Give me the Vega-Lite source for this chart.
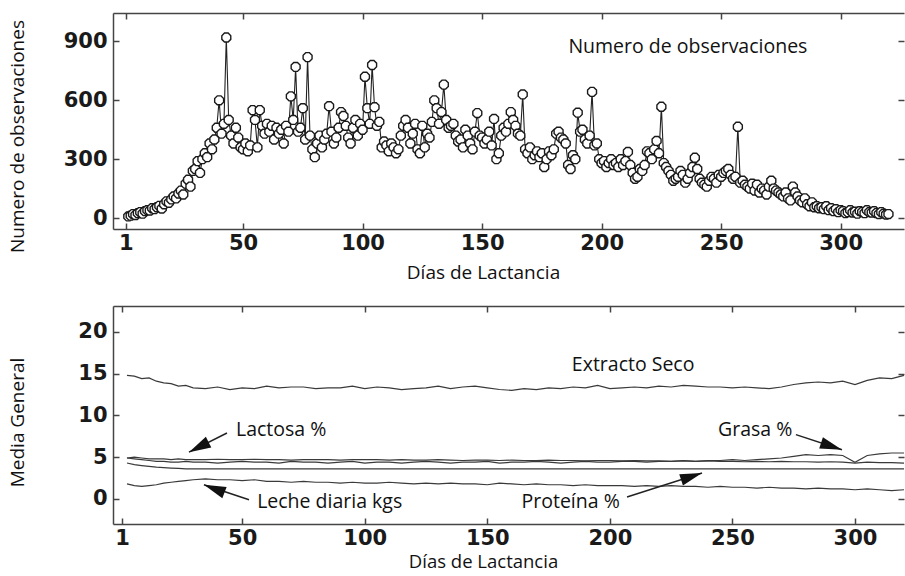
{
  "$schema": "https://vega.github.io/schema/vega-lite/v6.json",
  "background": "white",
  "padding": {"left": 7, "top": 12, "right": 0, "bottom": 0},
  "bounds": "flush",
  "spacing": 77,
  "config": {
    "view": {"stroke": null},
    "font": "Open Sans",
    "axis": {
      "grid": false,
      "domainColor": "#444",
      "domainWidth": 1.5,
      "tickColor": "#444",
      "tickWidth": 1.5,
      "tickSize": -6,
      "labelFont": "DejaVu Sans",
      "labelFontWeight": "bold",
      "labelFontSize": 21,
      "labelColor": "#1a1a1a",
      "titleFont": "Open Sans",
      "titleFontWeight": "normal",
      "titleFontSize": 19,
      "titleColor": "#111"
    },
    "text": {"font": "Open Sans", "fontSize": 19.5, "color": "#111"}
  },
  "datasets": {
    "obs": [
      {"d":2,"n":8},{"d":3,"n":12},{"d":4,"n":20},{"d":5,"n":15},{"d":6,"n":25},{"d":7,"n":30},{"d":8,"n":22},{"d":9,"n":35},{"d":10,"n":40},
      {"d":11,"n":38},{"d":12,"n":50},{"d":13,"n":45},{"d":14,"n":55},{"d":15,"n":62},{"d":16,"n":48},{"d":17,"n":70},{"d":18,"n":85},{"d":19,"n":78},{"d":20,"n":95},
      {"d":21,"n":110},{"d":22,"n":100},{"d":23,"n":125},{"d":24,"n":140},{"d":25,"n":120},{"d":26,"n":175},{"d":27,"n":195},{"d":28,"n":160},{"d":29,"n":240},{"d":30,"n":250},
      {"d":31,"n":290},{"d":32,"n":230},{"d":33,"n":300},{"d":34,"n":330},{"d":35,"n":310},{"d":36,"n":380},{"d":37,"n":350},{"d":38,"n":400},{"d":39,"n":460},{"d":40,"n":600},
      {"d":41,"n":430},{"d":42,"n":480},{"d":43,"n":920},{"d":44,"n":500},{"d":45,"n":420},{"d":46,"n":380},{"d":47,"n":460},{"d":48,"n":410},{"d":49,"n":360},{"d":50,"n":350},
      {"d":51,"n":380},{"d":52,"n":340},{"d":53,"n":370},{"d":54,"n":550},{"d":55,"n":500},{"d":56,"n":360},{"d":57,"n":550},{"d":58,"n":470},{"d":59,"n":430},{"d":60,"n":480},
      {"d":61,"n":440},{"d":62,"n":470},{"d":63,"n":400},{"d":64,"n":460},{"d":65,"n":430},{"d":66,"n":450},{"d":67,"n":380},{"d":68,"n":470},{"d":69,"n":440},{"d":70,"n":620},
      {"d":71,"n":500},{"d":72,"n":770},{"d":73,"n":440},{"d":74,"n":460},{"d":75,"n":560},{"d":76,"n":400},{"d":77,"n":820},{"d":78,"n":420},{"d":79,"n":350},{"d":80,"n":310},
      {"d":81,"n":380},{"d":82,"n":420},{"d":83,"n":360},{"d":84,"n":400},{"d":85,"n":430},{"d":86,"n":570},{"d":87,"n":440},{"d":88,"n":380},{"d":89,"n":410},{"d":90,"n":460},
      {"d":91,"n":540},{"d":92,"n":520},{"d":93,"n":470},{"d":94,"n":410},{"d":95,"n":380},{"d":96,"n":460},{"d":97,"n":500},{"d":98,"n":420},{"d":99,"n":480},{"d":100,"n":450},
      {"d":101,"n":720},{"d":102,"n":560},{"d":103,"n":480},{"d":104,"n":780},{"d":105,"n":565},{"d":106,"n":470},{"d":107,"n":490},{"d":108,"n":360},{"d":109,"n":390},{"d":110,"n":370},
      {"d":111,"n":340},{"d":112,"n":380},{"d":113,"n":360},{"d":114,"n":330},{"d":115,"n":350},{"d":116,"n":420},{"d":117,"n":470},{"d":118,"n":500},{"d":119,"n":460},{"d":120,"n":380},
      {"d":121,"n":430},{"d":122,"n":480},{"d":123,"n":350},{"d":124,"n":330},{"d":125,"n":470},{"d":126,"n":360},{"d":127,"n":430},{"d":128,"n":410},{"d":129,"n":490},{"d":130,"n":600},
      {"d":131,"n":560},{"d":132,"n":480},{"d":133,"n":540},{"d":134,"n":680},{"d":135,"n":500},{"d":136,"n":460},{"d":137,"n":470},{"d":138,"n":480},{"d":139,"n":420},{"d":140,"n":390},
      {"d":141,"n":400},{"d":142,"n":360},{"d":143,"n":450},{"d":144,"n":420},{"d":145,"n":380},{"d":146,"n":350},{"d":147,"n":440},{"d":148,"n":535},{"d":149,"n":420},{"d":150,"n":410},
      {"d":151,"n":380},{"d":152,"n":400},{"d":153,"n":440},{"d":154,"n":370},{"d":155,"n":505},{"d":156,"n":300},{"d":157,"n":330},{"d":158,"n":420},{"d":159,"n":460},{"d":160,"n":440},
      {"d":161,"n":480},{"d":162,"n":540},{"d":163,"n":500},{"d":164,"n":470},{"d":165,"n":430},{"d":166,"n":420},{"d":167,"n":630},{"d":168,"n":350},{"d":169,"n":330},{"d":170,"n":360},
      {"d":171,"n":300},{"d":172,"n":320},{"d":173,"n":340},{"d":174,"n":310},{"d":175,"n":330},{"d":176,"n":260},{"d":177,"n":300},{"d":178,"n":340},{"d":179,"n":320},{"d":180,"n":350},
      {"d":181,"n":430},{"d":182,"n":440},{"d":183,"n":410},{"d":184,"n":400},{"d":185,"n":380},{"d":186,"n":270},{"d":187,"n":250},{"d":188,"n":320},{"d":189,"n":300},{"d":190,"n":537},
      {"d":191,"n":440},{"d":192,"n":450},{"d":193,"n":400},{"d":194,"n":380},{"d":195,"n":420},{"d":196,"n":643},{"d":197,"n":370},{"d":198,"n":380},{"d":199,"n":300},{"d":200,"n":280},
      {"d":201,"n":290},{"d":202,"n":260},{"d":203,"n":280},{"d":204,"n":300},{"d":205,"n":270},{"d":206,"n":280},{"d":207,"n":260},{"d":208,"n":300},{"d":209,"n":270},{"d":210,"n":290},
      {"d":211,"n":337},{"d":212,"n":270},{"d":213,"n":230},{"d":214,"n":200},{"d":215,"n":210},{"d":216,"n":250},{"d":217,"n":240},{"d":218,"n":270},{"d":219,"n":340},{"d":220,"n":330},
      {"d":221,"n":300},{"d":222,"n":350},{"d":223,"n":393},{"d":224,"n":330},{"d":225,"n":567},{"d":226,"n":280},{"d":227,"n":260},{"d":228,"n":240},{"d":229,"n":220},{"d":230,"n":190},
      {"d":231,"n":200},{"d":232,"n":210},{"d":233,"n":240},{"d":234,"n":220},{"d":235,"n":180},{"d":236,"n":200},{"d":237,"n":230},{"d":238,"n":260},{"d":239,"n":307},{"d":240,"n":250},
      {"d":241,"n":200},{"d":242,"n":180},{"d":243,"n":170},{"d":244,"n":160},{"d":245,"n":190},{"d":246,"n":210},{"d":247,"n":200},{"d":248,"n":180},{"d":249,"n":220},{"d":250,"n":210},
      {"d":251,"n":230},{"d":252,"n":240},{"d":253,"n":250},{"d":254,"n":220},{"d":255,"n":200},{"d":256,"n":210},{"d":257,"n":465},{"d":258,"n":180},{"d":259,"n":190},{"d":260,"n":170},
      {"d":261,"n":160},{"d":262,"n":150},{"d":263,"n":175},{"d":264,"n":140},{"d":265,"n":170},{"d":266,"n":130},{"d":267,"n":150},{"d":268,"n":140},{"d":269,"n":120},{"d":270,"n":160},
      {"d":271,"n":190},{"d":272,"n":150},{"d":273,"n":140},{"d":274,"n":130},{"d":275,"n":120},{"d":276,"n":110},{"d":277,"n":130},{"d":278,"n":100},{"d":279,"n":90},{"d":280,"n":160},
      {"d":281,"n":130},{"d":282,"n":110},{"d":283,"n":90},{"d":284,"n":80},{"d":285,"n":100},{"d":286,"n":70},{"d":287,"n":60},{"d":288,"n":80},{"d":289,"n":55},{"d":290,"n":60},
      {"d":291,"n":50},{"d":292,"n":55},{"d":293,"n":45},{"d":294,"n":60},{"d":295,"n":40},{"d":296,"n":50},{"d":297,"n":35},{"d":298,"n":45},{"d":299,"n":30},{"d":300,"n":40},
      {"d":301,"n":35},{"d":302,"n":25},{"d":303,"n":30},{"d":304,"n":40},{"d":305,"n":28},{"d":306,"n":32},{"d":307,"n":22},{"d":308,"n":35},{"d":309,"n":30},{"d":310,"n":25},
      {"d":311,"n":40},{"d":312,"n":30},{"d":313,"n":28},{"d":314,"n":35},{"d":315,"n":25},{"d":316,"n":20},{"d":317,"n":30},{"d":318,"n":22},{"d":319,"n":18},{"d":320,"n":20}
    ],
    "comp": [
      {"d":3,"es":14.8,"gr":4.9,"la":4.9,"pr":4.3,"le":1.8},
      {"d":6,"es":14.7,"gr":4.8,"la":5.0,"pr":4.1,"le":1.6},
      {"d":9,"es":14.4,"gr":4.7,"la":4.9,"pr":4.0,"le":1.5},
      {"d":12,"es":14.5,"gr":4.6,"la":4.8,"pr":3.9,"le":1.6},
      {"d":15,"es":14.1,"gr":4.5,"la":4.8,"pr":3.8,"le":1.7},
      {"d":18,"es":13.9,"gr":4.5,"la":4.8,"pr":3.75,"le":1.9},
      {"d":21,"es":13.8,"gr":4.4,"la":4.7,"pr":3.7,"le":2.0},
      {"d":24,"es":13.5,"gr":4.4,"la":4.8,"pr":3.65,"le":2.1},
      {"d":27,"es":13.6,"gr":4.5,"la":4.7,"pr":3.6,"le":2.2},
      {"d":30,"es":13.3,"gr":4.4,"la":4.7,"pr":3.6,"le":2.3},
      {"d":35,"es":13.2,"gr":4.4,"la":4.7,"pr":3.6,"le":2.4},
      {"d":40,"es":13.4,"gr":4.3,"la":4.75,"pr":3.6,"le":2.3},
      {"d":45,"es":13.1,"gr":4.4,"la":4.7,"pr":3.6,"le":2.3},
      {"d":50,"es":13.3,"gr":4.5,"la":4.7,"pr":3.6,"le":2.2},
      {"d":55,"es":13.2,"gr":4.4,"la":4.75,"pr":3.6,"le":2.3},
      {"d":60,"es":13.5,"gr":4.4,"la":4.7,"pr":3.6,"le":2.1},
      {"d":65,"es":13.3,"gr":4.3,"la":4.7,"pr":3.6,"le":2.1},
      {"d":70,"es":13.4,"gr":4.5,"la":4.65,"pr":3.6,"le":2.0},
      {"d":75,"es":13.4,"gr":4.4,"la":4.7,"pr":3.6,"le":2.1},
      {"d":80,"es":13.2,"gr":4.4,"la":4.7,"pr":3.6,"le":2.0},
      {"d":85,"es":13.3,"gr":4.3,"la":4.7,"pr":3.6,"le":2.0},
      {"d":90,"es":13.3,"gr":4.4,"la":4.65,"pr":3.6,"le":1.9},
      {"d":95,"es":13.5,"gr":4.5,"la":4.7,"pr":3.6,"le":2.0},
      {"d":100,"es":13.2,"gr":4.3,"la":4.7,"pr":3.6,"le":1.9},
      {"d":105,"es":13.4,"gr":4.4,"la":4.7,"pr":3.6,"le":1.9},
      {"d":110,"es":13.3,"gr":4.4,"la":4.65,"pr":3.6,"le":2.0},
      {"d":115,"es":13.1,"gr":4.3,"la":4.7,"pr":3.6,"le":1.9},
      {"d":120,"es":13.2,"gr":4.4,"la":4.65,"pr":3.6,"le":1.8},
      {"d":125,"es":13.3,"gr":4.5,"la":4.65,"pr":3.6,"le":1.9},
      {"d":130,"es":13.5,"gr":4.4,"la":4.7,"pr":3.6,"le":1.8},
      {"d":135,"es":13.2,"gr":4.3,"la":4.65,"pr":3.6,"le":1.9},
      {"d":140,"es":13.4,"gr":4.4,"la":4.6,"pr":3.6,"le":1.8},
      {"d":145,"es":13.5,"gr":4.4,"la":4.65,"pr":3.6,"le":1.8},
      {"d":150,"es":13.3,"gr":4.5,"la":4.65,"pr":3.6,"le":1.7},
      {"d":155,"es":13.1,"gr":4.3,"la":4.6,"pr":3.6,"le":1.9},
      {"d":160,"es":13.0,"gr":4.4,"la":4.65,"pr":3.6,"le":1.8},
      {"d":165,"es":13.2,"gr":4.4,"la":4.6,"pr":3.6,"le":1.7},
      {"d":170,"es":13.1,"gr":4.5,"la":4.6,"pr":3.6,"le":1.8},
      {"d":175,"es":13.3,"gr":4.4,"la":4.65,"pr":3.6,"le":1.7},
      {"d":180,"es":13.2,"gr":4.3,"la":4.6,"pr":3.6,"le":1.7},
      {"d":185,"es":13.4,"gr":4.4,"la":4.6,"pr":3.6,"le":1.6},
      {"d":190,"es":13.3,"gr":4.5,"la":4.55,"pr":3.6,"le":1.7},
      {"d":195,"es":13.6,"gr":4.4,"la":4.6,"pr":3.6,"le":1.6},
      {"d":200,"es":13.2,"gr":4.4,"la":4.6,"pr":3.6,"le":1.6},
      {"d":205,"es":13.3,"gr":4.5,"la":4.55,"pr":3.6,"le":1.6},
      {"d":210,"es":13.4,"gr":4.5,"la":4.6,"pr":3.6,"le":1.5},
      {"d":215,"es":13.3,"gr":4.4,"la":4.55,"pr":3.6,"le":1.6},
      {"d":220,"es":13.5,"gr":4.5,"la":4.55,"pr":3.6,"le":1.5},
      {"d":225,"es":13.4,"gr":4.5,"la":4.5,"pr":3.6,"le":1.6},
      {"d":230,"es":13.6,"gr":4.6,"la":4.55,"pr":3.6,"le":1.5},
      {"d":235,"es":13.5,"gr":4.5,"la":4.5,"pr":3.6,"le":1.5},
      {"d":240,"es":13.4,"gr":4.6,"la":4.55,"pr":3.6,"le":1.4},
      {"d":245,"es":13.4,"gr":4.6,"la":4.5,"pr":3.6,"le":1.5},
      {"d":250,"es":13.3,"gr":4.7,"la":4.5,"pr":3.6,"le":1.4},
      {"d":255,"es":13.4,"gr":4.6,"la":4.45,"pr":3.6,"le":1.4},
      {"d":260,"es":13.3,"gr":4.7,"la":4.5,"pr":3.6,"le":1.3},
      {"d":265,"es":13.2,"gr":4.8,"la":4.45,"pr":3.6,"le":1.4},
      {"d":270,"es":13.4,"gr":4.9,"la":4.5,"pr":3.6,"le":1.3},
      {"d":275,"es":13.7,"gr":5.1,"la":4.45,"pr":3.6,"le":1.3},
      {"d":280,"es":13.9,"gr":5.3,"la":4.45,"pr":3.6,"le":1.2},
      {"d":285,"es":14.0,"gr":5.2,"la":4.4,"pr":3.6,"le":1.3},
      {"d":290,"es":13.9,"gr":5.3,"la":4.45,"pr":3.6,"le":1.2},
      {"d":295,"es":14.1,"gr":5.2,"la":4.4,"pr":3.6,"le":1.2},
      {"d":300,"es":13.7,"gr":4.4,"la":4.3,"pr":3.6,"le":1.1},
      {"d":305,"es":14.2,"gr":5.2,"la":4.4,"pr":3.6,"le":1.2},
      {"d":310,"es":14.5,"gr":5.4,"la":4.35,"pr":3.6,"le":1.1},
      {"d":315,"es":14.4,"gr":5.5,"la":4.35,"pr":3.6,"le":1.0},
      {"d":320,"es":14.8,"gr":5.5,"la":4.3,"pr":3.6,"le":1.1}
    ],
    "labels": [
      {"x":209.5,"y":16.0,"t":"Extracto Seco"},
      {"x":65.9,"y":8.3,"t":"Lactosa %"},
      {"x":259.3,"y":8.3,"t":"Grasa %"},
      {"x":85.7,"y":-0.36,"t":"Leche diaria kgs"},
      {"x":184.0,"y":-0.36,"t":"Proteína %"}
    ],
    "arrows": [
      {"x":43.8,"y":7.9,"x2":28.3,"y2":5.6},
      {"x":52.8,"y":-0.1,"x2":34.4,"y2":1.7},
      {"x":207.0,"y":0.24,"x2":237.6,"y2":3.1},
      {"x":275.9,"y":7.7,"x2":294.7,"y2":5.9}
    ]
  },
  "vconcat": [
    {
      "width": 791,
      "height": 216,
      "resolve": {"axis": {"x": "independent", "y": "independent"}},
      "layer": [
        {
          "data": {"name": "obs"},
          "mark": {"type": "line", "color": "#222", "strokeWidth": 1.1},
          "encoding": {
            "x": {"field": "d", "type": "quantitative", "scale": {"domain": [-4.4, 326.5], "nice": false, "zero": false},
                  "axis": {"orient": "bottom", "values": [1,50,100,150,200,250,300], "title": "Días de Lactancia", "labelPadding": 9, "titlePadding": 10, "titleX": 370}},
            "y": {"field": "n", "type": "quantitative", "scale": {"domain": [-56, 1045], "nice": false, "zero": false},
                  "axis": {"orient": "left", "values": [0,300,600,900], "title": "Numero de observaciones", "labelPadding": 12, "titleX": -86, "titleY": 123, "titleAngle": -90, "titleBaseline": "bottom", "titleAlign": "center"}}
          }
        },
        {
          "data": {"name": "obs"},
          "mark": {"type": "point", "shape": "M-0.41,-1L0.41,-1L1,-0.41L1,0.41L0.41,1L-0.41,1L-1,0.41L-1,-0.41Z", "filled": true, "fill": "white", "stroke": "#1a1a1a", "strokeWidth": 1.4, "size": 80, "opacity": 1},
          "encoding": {
            "x": {"field": "d", "type": "quantitative", "axis": null},
            "y": {"field": "n", "type": "quantitative", "axis": null}
          }
        },
        {
          "data": {"values": [{"x": 236.1, "y": 873, "t": "Numero de observaciones"}]},
          "mark": {"type": "text", "align": "center", "baseline": "middle"},
          "encoding": {
            "x": {"field": "x", "type": "quantitative", "axis": null},
            "y": {"field": "y", "type": "quantitative", "axis": null},
            "text": {"field": "t"}
          }
        },
        {
          "data": {"name": "obs"},
          "mark": {"type": "point", "opacity": 0},
          "encoding": {
            "x": {"field": "d", "type": "quantitative", "axis": {"orient": "top", "values": [1,50,100,150,200,250,300], "labels": false, "title": null}},
            "y": {"field": "n", "type": "quantitative", "axis": {"orient": "right", "values": [0,300,600,900], "labels": false, "title": null, "domain": false}}
          }
        }
      ]
    },
    {
      "width": 791,
      "height": 218,
      "resolve": {"axis": {"x": "independent", "y": "independent"}},
      "layer": [
        {
          "data": {"name": "comp"},
          "transform": [{"fold": ["es", "gr", "la", "pr", "le"], "as": ["serie", "v"]}],
          "mark": {"type": "line", "color": "#3a3a3a", "strokeWidth": 1.2},
          "encoding": {
            "x": {"field": "d", "type": "quantitative", "scale": {"domain": [-2.7, 320], "nice": false, "zero": false},
                  "axis": {"orient": "bottom", "values": [1,50,100,150,200,250,300], "title": "Días de Lactancia", "labelPadding": 9, "titlePadding": 4, "titleFontSize": 18.5, "titleX": 370}},
            "y": {"field": "v", "type": "quantitative", "scale": {"domain": [-3, 23.1], "nice": false, "zero": false},
                  "axis": {"orient": "left", "values": [0,5,10,15,20], "title": "Media General", "labelPadding": 12, "titleX": -86, "titleY": 116, "titleAngle": -90, "titleBaseline": "bottom", "titleAlign": "center"}},
            "detail": {"field": "serie"}
          }
        },
        {
          "data": {"name": "labels"},
          "mark": {"type": "text", "align": "center", "baseline": "middle"},
          "encoding": {
            "x": {"field": "x", "type": "quantitative", "axis": null},
            "y": {"field": "y", "type": "quantitative", "axis": null},
            "text": {"field": "t"}
          }
        },
        {
          "data": {"name": "arrows"},
          "mark": {"type": "rule", "color": "#222", "strokeWidth": 1.5},
          "encoding": {
            "x": {"field": "x", "type": "quantitative", "axis": null},
            "y": {"field": "y", "type": "quantitative", "axis": null},
            "x2": {"field": "x2"},
            "y2": {"field": "y2"}
          }
        },
        {
          "data": {"values": [{}]},
          "mark": {"type": "point", "shape": "M0,0L0.6,2.2L-0.6,2.2Z", "filled": true, "color": "#111", "size": 400, "opacity": 1, "angle": 243},
          "encoding": {"x": {"datum": 28.3, "type": "quantitative", "axis": null}, "y": {"datum": 5.6, "type": "quantitative", "axis": null}}
        },
        {
          "data": {"values": [{}]},
          "mark": {"type": "point", "shape": "M0,0L0.6,2.2L-0.6,2.2Z", "filled": true, "color": "#111", "size": 400, "opacity": 1, "angle": 291},
          "encoding": {"x": {"datum": 34.4, "type": "quantitative", "axis": null}, "y": {"datum": 1.7, "type": "quantitative", "axis": null}}
        },
        {
          "data": {"values": [{}]},
          "mark": {"type": "point", "shape": "M0,0L0.6,2.2L-0.6,2.2Z", "filled": true, "color": "#111", "size": 400, "opacity": 1, "angle": 72},
          "encoding": {"x": {"datum": 237.6, "type": "quantitative", "axis": null}, "y": {"datum": 3.1, "type": "quantitative", "axis": null}}
        },
        {
          "data": {"values": [{}]},
          "mark": {"type": "point", "shape": "M0,0L0.6,2.2L-0.6,2.2Z", "filled": true, "color": "#111", "size": 400, "opacity": 1, "angle": 108},
          "encoding": {"x": {"datum": 294.7, "type": "quantitative", "axis": null}, "y": {"datum": 5.9, "type": "quantitative", "axis": null}}
        },
        {
          "data": {"name": "comp"},
          "mark": {"type": "point", "opacity": 0},
          "encoding": {
            "x": {"field": "d", "type": "quantitative", "axis": {"orient": "top", "values": [1,50,100,150,200,250,300], "labels": false, "title": null}},
            "y": {"field": "es", "type": "quantitative", "axis": {"orient": "right", "values": [0,5,10,15,20], "labels": false, "title": null, "domain": false}}
          }
        }
      ]
    }
  ]
}
